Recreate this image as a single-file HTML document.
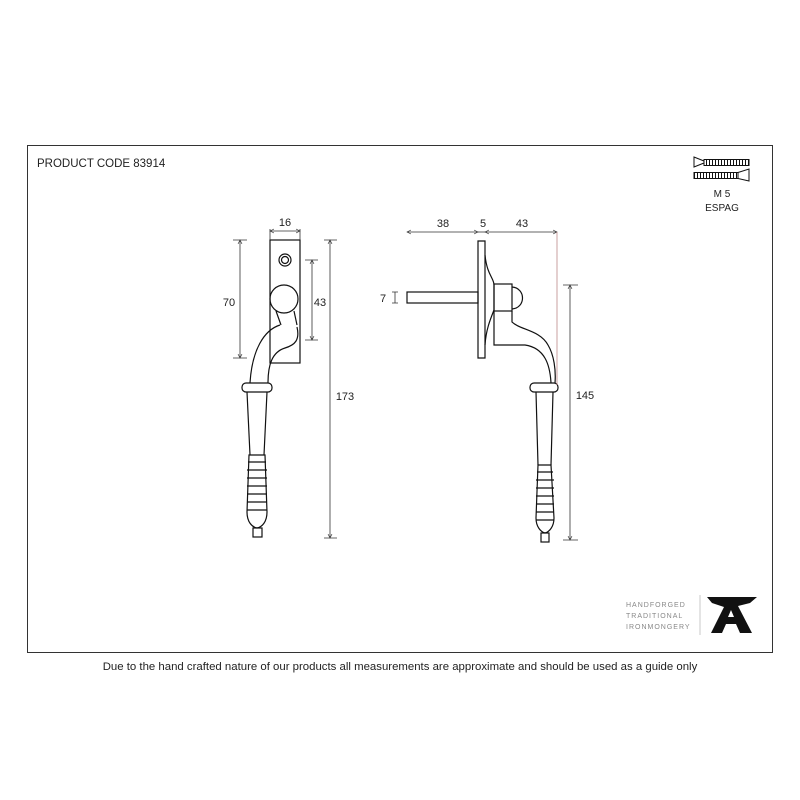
<!DOCTYPE html>
<html><head><style>body{margin:0;background:#fff}svg{display:block}text{font-family:"Liberation Sans",sans-serif;fill:#222}</style></head><body>
<svg width="800" height="800" viewBox="0 0 800 800" xmlns="http://www.w3.org/2000/svg">
<defs><marker id="a" markerWidth="6" markerHeight="6" refX="5" refY="3" orient="auto-start-reverse"><path d="M0,0.5 L5,3 L0,5.5" fill="none" stroke="#333" stroke-width="0.8"/></marker>
<pattern id="th" width="3" height="10" patternUnits="userSpaceOnUse"><rect width="3" height="10" fill="#fff"/><path d="M1.5,0V10" stroke="#111" stroke-width="1"/></pattern></defs>
<rect x="27.5" y="145.5" width="745" height="507" fill="none" stroke="#333" stroke-width="1"/>
<text x="37" y="167" font-size="11.5">PRODUCT CODE 83914</text>
<text x="400" y="670" font-size="11.4" text-anchor="middle">Due to the hand crafted nature of our products all measurements are approximate and should be used as a guide only</text>
<g fill="none" stroke="#111" stroke-width="1.2">
<!-- left view -->
<rect x="270" y="240" width="30" height="123"/>
<circle cx="285" cy="260" r="6"/><circle cx="285" cy="260" r="3.5"/>
<circle cx="284" cy="299" r="14"/>
<path d="M276,311 L281,325 M294,311 L297,325"/>
<path d="M280,325 C264,330 252,350 250,383 M297,327 C300,340 295,345 285,348 C272,352 268,365 268,383"/>
<rect x="242" y="383" width="30" height="9" rx="4"/>
<path d="M247,392 L250,455 M267,392 L264,455"/>
<path d="M249,455 L247,512 C247,522 252,527 257,528 C262,527 267,522 267,512 L265,455 Z"/>
<path d="M248,462h18M247,470h20M247,478h20M247,486h20M247,494h20M247,502h20M247,510h20"/>
<rect x="253" y="528" width="9" height="9"/>
<!-- right view -->
<rect x="407" y="292" width="71" height="11"/>
<path d="M478,241 L485,241 L485,358 L478,358 Z"/>
<path d="M485,255 C487,275 494,278 494,285 L494,310 C490,320 486,330 485,345"/>
<rect x="494" y="284" width="18" height="27"/>
<path d="M512,287 C526,288 526,308 512,309"/>
<path d="M494,311 L494,345 L525,345 C545,348 550,365 551,383 M512,311 L512,322 C520,330 540,330 548,345 C554,355 556,370 555,383"/>
<rect x="530" y="383" width="28" height="9" rx="4"/>
<path d="M536,392 L538,465 M553,392 L551,465"/>
<path d="M538,465 L536,518 C536,527 541,532 545,533 C549,532 554,527 554,518 L551,465 Z"/>
<path d="M537,472h16M536,480h18M536,488h18M536,496h18M536,504h18M536,512h18M536,520h18"/>
<rect x="541" y="533" width="8" height="9"/>
<!-- screws -->
<path d="M694,157 L694,167 L704,163 L704,161 Z" stroke-width="1"/>
<rect x="704" y="159.5" width="45" height="6" fill="url(#th)" stroke-width="1"/>
<rect x="694" y="172.5" width="44" height="6" fill="url(#th)" stroke-width="1"/>
<path d="M738,172.5 L749,169 L749,181 L738,178.5 Z" stroke-width="1"/>
</g>
<g stroke="#333" stroke-width="0.8" fill="none">
<path d="M270,231 H300" marker-start="url(#a)" marker-end="url(#a)"/>
<path d="M270,229V240M300,229V240M233,240H247M233,358H247M305,260H318M305,340H318M324,240H337M324,538H337"/>
<path d="M240,240 V358" marker-start="url(#a)" marker-end="url(#a)"/>
<path d="M312,260 V340" marker-start="url(#a)" marker-end="url(#a)"/>
<path d="M330,240 V538" marker-start="url(#a)" marker-end="url(#a)"/>
<path d="M407,232 H478" marker-start="url(#a)" marker-end="url(#a)"/>
<path d="M478,232 H485"/>
<path d="M485,232 H557" marker-start="url(#a)" marker-end="url(#a)"/>
<path d="M557,232 V385" stroke="#b88"/>
<path d="M570,285 V540" marker-start="url(#a)" marker-end="url(#a)"/>
<path d="M563,285H578M563,540H578M395,292V303M392,292H398M392,303H398"/>
<path d="M700,595 V635" stroke="#bbb"/>
</g>
<text x="285" y="226" font-size="11" text-anchor="middle">16</text>
<text x="229" y="306" font-size="11" text-anchor="middle">70</text>
<text x="320" y="306" font-size="11" text-anchor="middle">43</text>
<text x="345" y="400" font-size="11" text-anchor="middle">173</text>
<text x="443" y="227" font-size="11" text-anchor="middle">38</text>
<text x="483" y="227" font-size="11" text-anchor="middle">5</text>
<text x="522" y="227" font-size="11" text-anchor="middle">43</text>
<text x="585" y="399" font-size="11" text-anchor="middle">145</text>
<text x="383" y="302" font-size="11" text-anchor="middle">7</text>
<text x="722" y="197" font-size="10" text-anchor="middle">M 5</text>
<text x="722" y="211" font-size="10" text-anchor="middle">ESPAG</text>
<g font-family="Liberation Serif,serif" font-size="7" fill="#888" style="letter-spacing:1px">
<text x="626" y="607" style="fill:#888">HANDFORGED</text>
<text x="626" y="618" style="fill:#888">TRADITIONAL</text>
<text x="626" y="629" style="fill:#888">IRONMONGERY</text>
</g>
<path d="M707,597 L757,597 L750,603 L738,606 L752,633 L740,633 L736,624 L726,624 L722,633 L711,633 L724,607 L712,603 Z M728,617 L734,617 L731,610 Z" fill="#111" fill-rule="evenodd"/>
</svg>
</body></html>
